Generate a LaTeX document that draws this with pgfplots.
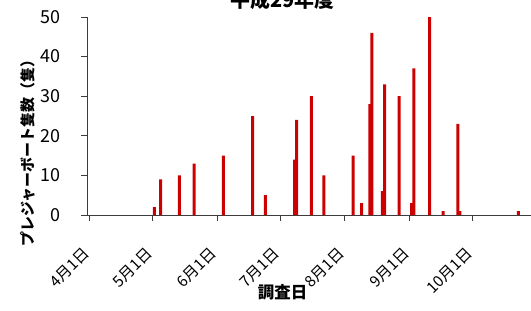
\documentclass[border=0pt]{standalone}
\usepackage{pgfplots}
\pgfplotsset{compat=1.18}
\usetikzlibrary{calc}
\usepackage{fontspec}
\setmainfont{Noto Sans CJK JP}
\definecolor{barred}{RGB}{204,0,0}
\definecolor{axgray}{RGB}{60,60,60}
\begin{document}
\begin{tikzpicture}
\clip (-87bp,-96bp) rectangle (444bp,215bp);
\begin{axis}[
  at={(0,0)}, anchor=south west,
  scale only axis, width=444bp, height=198bp,
  xmin=-1.2, xmax=211, ymin=0, ymax=50,
  clip=false,
  axis x line*=bottom, axis y line*=left,
  axis line style={draw=axgray, line width=0.8pt, -},
  every tick/.style={draw=axgray, line width=0.8pt},
  xtick align=inside, ytick align=outside,
  major tick length=5.5bp,
  xtick={0,30,61,91,122,153,183},
  xticklabels={4月1日,5月1日,6月1日,7月1日,8月1日,9月1日,10月1日},
  ytick={0,10,20,30,40,50},
  /pgf/number format/assume math mode=true,
  xticklabel style={font=\fontsize{15.5}{16}\selectfont, xshift=-3bp, yshift=-30bp, rotate=45, anchor=east, inner sep=0pt},
  yticklabel style={font=\fontsize{18}{18}\selectfont, inner sep=1pt, xshift=-20bp},
  ybar, bar width=3bp,
]
\addplot[fill=barred, draw=none] coordinates {
(31,2) (34,9) (43,10) (50,13) (64,15) (78,25) (84,5)
(98,14) (99,24) (106,30) (112,10)
(126,15) (130,3) (134,28) (135,46) (140,6) (141,33) (148,30)
(154,3) (155,37) (162.5,50) (169,1) (176,23) (177,1) (205,1)
};
\node[font=\fontsize{15}{15}\selectfont\bfseries, rotate=90, anchor=center] at ($(axis description cs:0,0.33)+(-62bp,0)$) {プレジャーボート隻数（隻）};
\node[font=\fontsize{16.5}{16.5}\selectfont\bfseries, anchor=center] at ($(axis description cs:0.435,0)+(0,-77bp)$) {調査日};
\node[font=\fontsize{20}{20}\selectfont\bfseries, anchor=base] at ($(axis description cs:0.435,1)+(0,10bp)$) {平成29年度};
\end{axis}
\end{tikzpicture}
\end{document}
